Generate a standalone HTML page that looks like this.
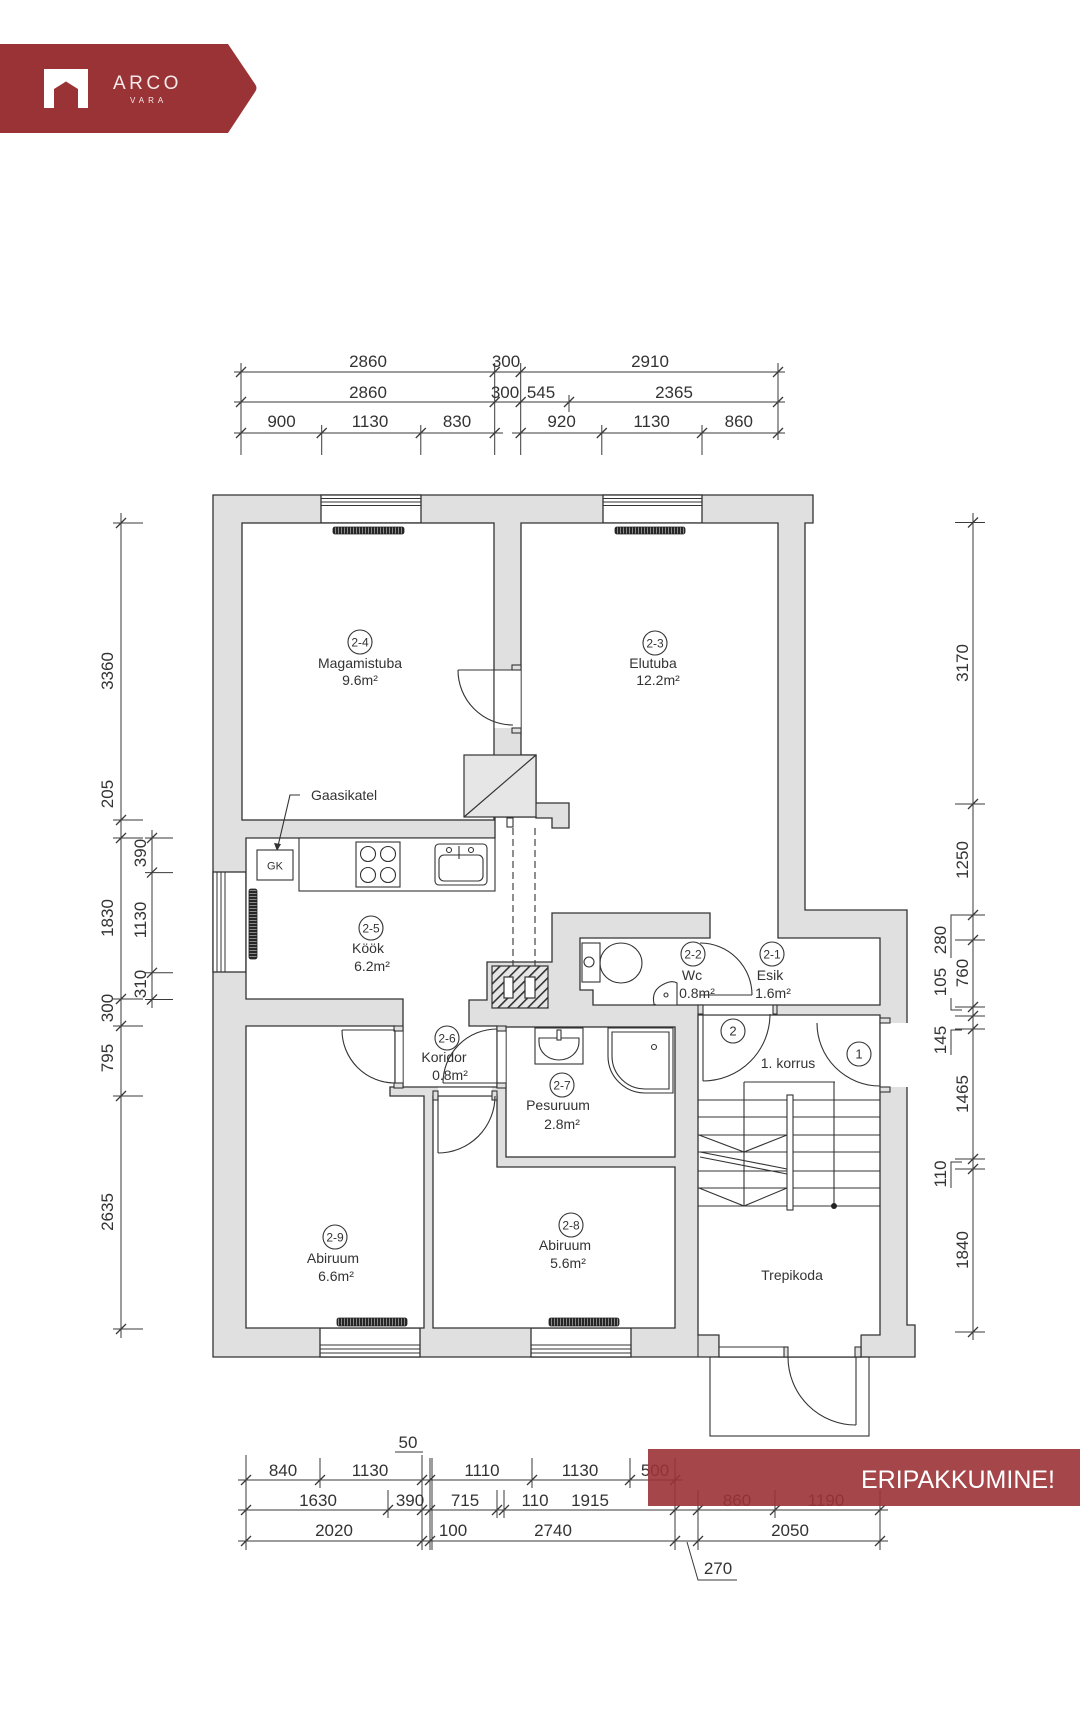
<!DOCTYPE html>
<html><head><meta charset="utf-8"><title>ARCO VARA floor plan</title>
<style>
html,body{margin:0;padding:0;background:#fff;}
svg{display:block;}
text{font-family:"Liberation Sans",sans-serif;fill:#333;}
.d{font-size:17px;}
.r{font-size:14px;}
.c{font-size:12px;}
</style></head><body>
<svg width="1080" height="1726" viewBox="0 0 1080 1726" xmlns="http://www.w3.org/2000/svg">
<defs>
<pattern id="rad" width="3" height="10" patternUnits="userSpaceOnUse"><rect width="3" height="10" fill="#262626"/><rect x="2" width="1" height="10" fill="#8a8a8a"/></pattern>
<pattern id="radv" width="10" height="3" patternUnits="userSpaceOnUse"><rect width="10" height="3" fill="#262626"/><rect y="2" width="10" height="1" fill="#8a8a8a"/></pattern>
<pattern id="hatch" width="7" height="7" patternUnits="userSpaceOnUse" patternTransform="rotate(45)"><rect width="7" height="7" fill="#e6e6e6"/><rect width="1.6" height="7" fill="#333"/></pattern>
</defs>

<!-- Logo banner -->
<path d="M0,44 H228 L255,84 Q258,88 255,92 L228,133 H0 Z" fill="#9a3336"/>
<path d="M44,69 H88 V108 H78 V89 L66,81.5 L54,89 V108 H44 Z" fill="#fff"/>
<text x="113" y="89" style="font-size:19px;letter-spacing:3.5px;fill:#f6eaea">ARCO</text>
<text x="130" y="103" style="font-size:8px;letter-spacing:4px;fill:#f6eaea">VARA</text>

<g stroke="#3a3a3a" stroke-width="1" fill="none">
<!-- top dims -->
<path d="M234,372H785 M234,402H785 M234,433H503 M512,433H785"/>
<path d="M241,363V455 M494.7,363V455 M520.7,363V455 M778,363V440 M321.7,425V455 M420.8,425V455 M601.8,425V455 M702,425V455 M569,395V412"/>
<path stroke-width="1.3" d="M236,377L246,367 M489.7,377L499.7,367 M515.7,377L525.7,367 M773,377L783,367
M236,407L246,397 M489.7,407L499.7,397 M515.7,407L525.7,397 M564,407L574,397 M773,407L783,397
M236,438L246,428 M316.7,438L326.7,428 M415.8,438L425.8,428 M489.7,438L499.7,428 M515.7,438L525.7,428 M596.8,438L606.8,428 M697,438L707,428 M773,438L783,428"/>

<!-- left dims -->
<path d="M121,513V1338 M152,830V1008"/>
<path d="M113,523H143 M113,820H143 M113,838H143 M113,999H143 M113,1026H143 M113,1096H143 M113,1329H143
M145,838H173 M145,872.6H173 M145,972.8H173 M145,999.5H173"/>
<path stroke-width="1.3" d="M116,528L126,518 M116,825L126,815 M116,843L126,833 M116,1004L126,994 M116,1031L126,1021 M116,1101L126,1091 M116,1334L126,1324
M147,843L157,833 M147,877.6L157,867.6 M147,977.8L157,967.8 M147,1004.5L157,994.5"/>

<!-- right dims -->
<path d="M973,513V1340"/>
<path d="M955,522.5H985 M955,804H985 M955,915H985 M955,940H985 M955,1007H985 M955,1016H985 M955,1029H985 M955,1159H985 M955,1169H985 M955,1332H985"/>
<path stroke-width="1.3" d="M968,527.5L978,517.5 M968,809L978,799 M968,920L978,910 M968,945L978,935 M968,1012L978,1002 M968,1021L978,1011 M968,1034L978,1024 M968,1164L978,1154 M968,1174L978,1164 M968,1337L978,1327"/>
<path d="M951,958V915H960 M951,998V1010H962 M951,1055V1030H962 M951,1188V1162H962"/>

<!-- interior dim -->
<path d="M722,513V1010"/>
<path d="M701,664H732 M701,728H732 M701,803H732 M701,828H732 M712,913H732 M712,938H732 M712,1002H732"/>
<path stroke-width="1.3" d="M717,518L727,528 M717,659L727,669 M717,723L727,733 M717,798L727,808 M717,823L727,833 M717,908L727,918 M717,933L727,943 M717,997L727,1007"/>
<path d="M724,818L745,823V860 M724,925L745,927V890"/>

<!-- bottom dims -->
<path d="M238,1480H683 M238,1510H888 M238,1541H888"/>
<path d="M246,1455V1550 M320,1458V1488 M388,1490V1518 M422,1455V1550 M423,1452H395 M430,1458V1550 M432,1458V1550 M497,1490V1518 M504,1490V1518 M532,1458V1488 M630,1458V1488 M675,1458V1550 M698,1490V1550 M775,1490V1518 M880,1490V1550"/>
<path stroke-width="1.3" d="M241,1485L251,1475 M315,1485L325,1475 M417,1485L427,1475 M425,1485L435,1475 M527,1485L537,1475 M625,1485L635,1475 M670,1485L680,1475
M241,1515L251,1505 M383,1515L393,1505 M417,1515L427,1505 M425,1515L435,1505 M492,1515L502,1505 M499,1515L509,1505 M670,1515L680,1505 M693,1515L703,1505 M770,1515L780,1505 M875,1515L885,1505
M241,1546L251,1536 M417,1546L427,1536 M425,1546L435,1536 M670,1546L680,1536 M693,1546L703,1536 M875,1546L885,1536"/>
<path d="M687,1542L698,1580H737"/>
</g>

<!-- dim text -->
<g class="d" text-anchor="middle">
<text x="368" y="367">2860</text><text x="506" y="367">300</text><text x="650" y="367">2910</text>
<text x="368" y="398">2860</text><text x="505" y="398">300</text><text x="541" y="398">545</text><text x="674" y="398">2365</text>
<text x="281.5" y="427">900</text><text x="370" y="427">1130</text><text x="457" y="427">830</text><text x="561.6" y="427">920</text><text x="651.6" y="427">1130</text><text x="738.8" y="427">860</text>

<text transform="translate(107,671) rotate(-90)" dy="6">3360</text>
<text transform="translate(107,794) rotate(-90)" dy="6">205</text>
<text transform="translate(107,918) rotate(-90)" dy="6">1830</text>
<text transform="translate(107,1008) rotate(-90)" dy="6">300</text>
<text transform="translate(107,1058) rotate(-90)" dy="6">795</text>
<text transform="translate(107,1212) rotate(-90)" dy="6">2635</text>
<text transform="translate(140,853) rotate(-90)" dy="6">390</text>
<text transform="translate(140,920) rotate(-90)" dy="6">1130</text>
<text transform="translate(140,984) rotate(-90)" dy="6">310</text>

<text transform="translate(962,663) rotate(-90)" dy="6">3170</text>
<text transform="translate(962,860) rotate(-90)" dy="6">1250</text>
<text transform="translate(962,973) rotate(-90)" dy="6">760</text>
<text transform="translate(962,1094) rotate(-90)" dy="6">1465</text>
<text transform="translate(962,1250) rotate(-90)" dy="6">1840</text>
<text transform="translate(940,940) rotate(-90)" dy="6">280</text>
<text transform="translate(940,982) rotate(-90)" dy="6">105</text>
<text transform="translate(940,1040) rotate(-90)" dy="6">145</text>
<text transform="translate(940,1174) rotate(-90)" dy="6">110</text>

<text transform="translate(734,594) rotate(90)" dy="6">1610</text>
<text transform="translate(734,696) rotate(90)" dy="6">710</text>
<text transform="translate(734,766) rotate(90)" dy="6">850</text>
<text transform="translate(734,871) rotate(90)" dy="6">960</text>
<text transform="translate(734,970) rotate(90)" dy="6">710</text>
<text transform="translate(758,842) rotate(90)" dy="6">290</text>
<text transform="translate(758,908) rotate(90)" dy="6">280</text>

<text x="283" y="1476">840</text><text x="370" y="1476">1130</text><text x="408" y="1448">50</text><text x="482" y="1476">1110</text><text x="580" y="1476">1130</text><text x="655" y="1476">500</text>
<text x="318" y="1506">1630</text><text x="410" y="1506">390</text><text x="465" y="1506">715</text><text x="535" y="1506">110</text><text x="590" y="1506">1915</text><text x="737" y="1506">860</text><text x="826" y="1506">1190</text>
<text x="334" y="1536">2020</text><text x="453" y="1536">100</text><text x="553" y="1536">2740</text><text x="790" y="1536">2050</text>
<text x="718" y="1574">270</text>
</g>

<!-- FLOOR PLAN -->
<g stroke="#333" stroke-width="1.3">
<path d="M213,495H813V523H805V910H907V1325H915V1357H213Z" fill="#e0e0e0"/>
<g fill="#fff">
<rect x="321" y="495" width="100" height="28"/><rect x="603" y="495" width="99" height="28"/>
<rect x="213" y="872" width="33" height="100"/>
<rect x="320" y="1328" width="100" height="29"/><rect x="531" y="1328" width="100" height="29"/>
</g>
<path fill="none" stroke-width="1" d="M321,498.5H421 M321,502H421 M321,505.5H421 M603,498.5H702 M603,502H702 M603,505.5H702
M217,872V972 M221,872V972 M225,872V972
M320,1345H420 M320,1349H420 M320,1353H420 M531,1345H631 M531,1349H631 M531,1353H631"/>
<g fill="#fff">
<rect x="242" y="523" width="252" height="297"/>
<path d="M521,523H778V938H880V1005H593V990H580V938H710V913H552V962H487V1000H469V1026H497V1087H403V999H246V838H495V817H536V818H552V828H569V803H536V755H521Z"/>
<path d="M246,1026H395V1087H390V1096H424V1328H246Z"/>
<path d="M433,1096H497V1167H675V1328H433Z"/>
<rect x="506" y="1027" width="169" height="130"/>
<path d="M698,1015H880V1335H861V1357H719V1335H698Z"/>
</g>
</g>
<g fill="#fff">
<rect x="494.7" y="670" width="26" height="58"/>
<rect x="395.7" y="1031" width="7" height="52"/>
<rect x="497.7" y="1031" width="8" height="52"/>
<rect x="438" y="1087.7" width="54" height="7.6"/>
<rect x="703" y="1005.7" width="70" height="8.6"/>
<rect x="880.7" y="1023" width="27.5" height="64"/>
<rect x="719.7" y="1334" width="141" height="22.3"/>
</g>
<g stroke="#333" stroke-width="1.1" fill="#e0e0e0">
<rect x="512" y="665" width="9" height="5"/><rect x="512" y="728" width="9" height="5"/>
<rect x="394" y="1026" width="9" height="5"/><rect x="394" y="1083" width="9" height="5"/>
<rect x="497" y="1026" width="9" height="5"/><rect x="497" y="1083" width="9" height="5"/>
<rect x="433" y="1091" width="5" height="9"/><rect x="492" y="1091" width="5" height="9"/>
<rect x="698" y="1005" width="5" height="9"/><rect x="773" y="1005" width="4" height="9"/>
<rect x="880" y="1018" width="10" height="5"/><rect x="880" y="1087" width="10" height="5"/>
<rect x="784" y="1347" width="4" height="10"/><rect x="855" y="1347" width="6" height="10"/>
<rect x="507" y="818" width="6" height="9" fill="#fff"/>
</g>
<g stroke="#333" stroke-width="1.1" fill="none">
<path d="M719,1347H784 M719,1357H861 M698,1335V1357 M719,1335V1357 M861,1335V1357"/>
<rect x="710" y="1357" width="159" height="79"/>
<path d="M458,670A55,55 0 0,0 513,725 M458,670H513"/>
<path d="M342,1030A53,53 0 0,0 395,1083 M342,1030H395"/>
<path d="M443,1083A54,54 0 0,1 497,1029 M443,1083H497"/>
<path d="M438,1153A57,57 0 0,0 495,1096 M438,1096V1153"/>
<path d="M700,943A52,52 0 0,1 752,995 M700,995H752"/>
<path d="M770,1014A67,67 0 0,1 703,1081 M703,1014V1081"/>
<path d="M817,1023A63,63 0 0,0 880,1086 M880,1023V1086"/>
<path d="M788,1357A68,68 0 0,0 856,1425 M856,1357V1425"/>
<path stroke-dasharray="7,4" d="M513,828V966 M535,828V966"/>
<path d="M744,1082H835 M744,1082V1206 M834,1082V1206 M698,1100H880 M698,1117H880 M698,1135H880 M698,1152H880 M698,1171H880 M698,1188H880 M698,1206H880
M699,1135L744,1152L787,1135 M699,1188L744,1206L787,1188 M700,1152L787,1169 M700,1157L787,1174"/>
<rect x="787" y="1095" width="6" height="115" fill="#fff"/>
<path d="M300,795H290L278,846"/>
</g>
<circle cx="834" cy="1206" r="3" fill="#222"/>
<path d="M277,851L274,843L281,844Z" fill="#333"/>

<g stroke="#333" stroke-width="1.2">
<rect x="464" y="755" width="72" height="62" fill="#e6e6e6"/>
<path d="M464,817L536,755" fill="none"/>
<rect x="492" y="966" width="56" height="42" fill="url(#hatch)"/>
<rect x="504" y="977" width="9" height="21" fill="#fff"/>
<rect x="525" y="977" width="10" height="21" fill="#fff"/>
</g>

<g stroke="#222" stroke-width="0.8">
<rect x="333" y="527" width="71" height="7" rx="2" fill="url(#rad)"/>
<rect x="615" y="527" width="70" height="7" rx="2" fill="url(#rad)"/>
<rect x="249" y="889" width="8" height="70" rx="2" fill="url(#radv)"/>
<rect x="337" y="1318" width="70" height="8" rx="2" fill="url(#rad)"/>
<rect x="549" y="1318" width="70" height="8" rx="2" fill="url(#rad)"/>
</g>

<g stroke="#333" stroke-width="1.1" fill="#fff">
<rect x="257" y="850" width="36" height="30"/>
<rect x="299" y="838" width="196" height="53"/>
<rect x="356" y="842" width="44" height="45"/>
<circle cx="368" cy="854" r="7.5"/><circle cx="388" cy="854" r="7.5"/><circle cx="368" cy="875" r="7.5"/><circle cx="388" cy="875" r="7.5"/>
<rect x="435" y="844" width="52" height="41" rx="4"/>
<rect x="439" y="855" width="44" height="26" rx="5"/>
<circle cx="449" cy="850" r="2.5"/><circle cx="471" cy="850" r="2.5"/>
<path d="M459,846V859" fill="none"/>
<ellipse cx="621" cy="963" rx="21" ry="20"/>
<rect x="582" y="943" width="18" height="39"/>
<circle cx="589" cy="962" r="5"/>
<path d="M654,1004Q651,990 664,984Q672,980 677,983V1005H656Z"/>
<circle cx="666" cy="995" r="2"/>
<rect x="535" y="1028" width="48" height="36"/>
<path d="M539,1038H579V1042A20,18 0 0,1 539,1042Z"/>
<rect x="557" y="1030" width="4" height="10"/>
<path d="M608,1028H673V1093H645A37,37 0 0,1 608,1056Z"/>
<path d="M612,1032H669V1089H645A33,33 0 0,1 612,1056Z"/>
<circle cx="654" cy="1047" r="2.5"/>
</g>

<g stroke="#333" stroke-width="1.1" fill="none">
<circle cx="360" cy="642" r="12"/><circle cx="655" cy="643" r="12"/><circle cx="371" cy="928" r="12"/>
<circle cx="447" cy="1038" r="12"/><circle cx="562" cy="1085" r="12"/><circle cx="693" cy="954" r="12"/>
<circle cx="772" cy="954" r="12"/><circle cx="335" cy="1237" r="12"/><circle cx="571" cy="1225" r="12"/>
<circle cx="733" cy="1031" r="12"/><circle cx="859" cy="1054" r="12"/>
</g>
<g class="c" text-anchor="middle">
<text x="360" y="646.5">2-4</text><text x="655" y="647.5">2-3</text><text x="371" y="932.5">2-5</text>
<text x="447" y="1042.5">2-6</text><text x="562" y="1089.5">2-7</text><text x="693" y="958.5">2-2</text>
<text x="772" y="958.5">2-1</text><text x="335" y="1241.5">2-9</text><text x="571" y="1229.5">2-8</text>
<text x="733" y="1035.5" style="font-size:13px">2</text><text x="859" y="1058.5" style="font-size:13px">1</text>
<text x="275" y="869.5" style="font-size:11px">GK</text>
</g>
<g class="r" text-anchor="middle">
<text x="360" y="668">Magamistuba</text><text x="360" y="685">9.6m²</text>
<text x="653" y="668">Elutuba</text><text x="658" y="685">12.2m²</text>
<text x="368" y="953">Köök</text><text x="372" y="971">6.2m²</text>
<text x="444" y="1062">Koridor</text><text x="450" y="1080">0.8m²</text>
<text x="558" y="1110">Pesuruum</text><text x="562" y="1129">2.8m²</text>
<text x="692" y="980">Wc</text><text x="697" y="998">0.8m²</text>
<text x="770" y="980">Esik</text><text x="773" y="998">1.6m²</text>
<text x="333" y="1263">Abiruum</text><text x="336" y="1281">6.6m²</text>
<text x="565" y="1250">Abiruum</text><text x="568" y="1268">5.6m²</text>
<text x="792" y="1280">Trepikoda</text>
<text x="788" y="1068">1. korrus</text>
</g>
<text x="311" y="800" class="r">Gaasikatel</text>

<rect x="648" y="1449" width="432" height="57" fill="rgba(155,50,54,0.9)"/>
<text x="1055" y="1488" text-anchor="end" style="font-size:25px;fill:#fff">ERIPAKKUMINE!</text>
</svg>
</body></html>
